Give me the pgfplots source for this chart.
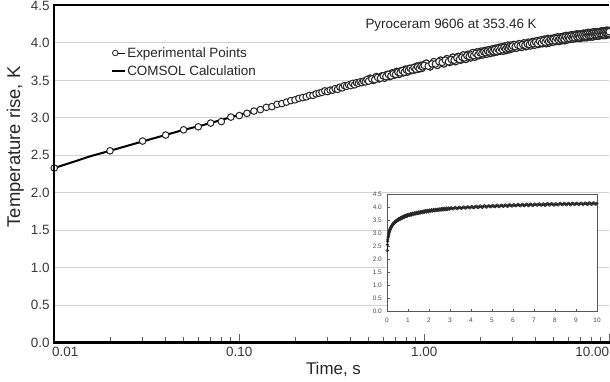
\documentclass[border=0pt]{standalone}
\usepackage{pgfplots}
\pgfplotsset{compat=1.18}
\usepackage{pgfplotstable}
\usepackage{fontspec}
\setmainfont{Liberation Sans}

\pgfplotstableread{
t y
0.01 2.33
0.02 2.56
0.03 2.69
0.04 2.77
0.05 2.84
0.06 2.88
0.07 2.93
0.08 2.95
0.09 3.01
0.10 3.03
0.11 3.06
0.12 3.09
0.13 3.11
0.14 3.14
0.15 3.15
0.16 3.18
0.17 3.19
0.18 3.21
0.19 3.23
0.20 3.24
0.21 3.26
0.22 3.27
0.23 3.28
0.24 3.30
0.25 3.30
0.26 3.32
0.27 3.33
0.28 3.34
0.29 3.36
0.30 3.35
0.31 3.37
0.32 3.37
0.33 3.39
0.34 3.38
0.35 3.41
0.36 3.40
0.37 3.43
0.38 3.42
0.39 3.44
0.40 3.43
0.41 3.46
0.42 3.44
0.43 3.47
0.44 3.46
0.45 3.48
0.46 3.47
0.47 3.49
0.48 3.48
0.49 3.51
0.50 3.49
0.52 3.52
0.54 3.51
0.56 3.54
0.58 3.53
0.60 3.56
0.62 3.55
0.64 3.58
0.66 3.56
0.68 3.59
0.70 3.58
0.72 3.61
0.74 3.60
0.76 3.63
0.78 3.61
0.80 3.64
0.82 3.63
0.84 3.66
0.86 3.64
0.88 3.67
0.90 3.65
0.92 3.68
0.94 3.66
0.96 3.69
0.98 3.68
1.00 3.70
1.05 3.69
1.10 3.72
1.15 3.72
1.20 3.75
1.25 3.74
1.30 3.77
1.35 3.75
1.40 3.78
1.45 3.77
1.50 3.80
1.55 3.78
1.60 3.81
1.65 3.80
1.70 3.83
1.75 3.82
1.80 3.84
1.85 3.83
1.90 3.86
1.95 3.84
2.00 3.87
2.05 3.86
2.10 3.88
2.15 3.87
2.20 3.89
2.25 3.88
2.30 3.90
2.35 3.89
2.40 3.91
2.45 3.89
2.50 3.92
2.55 3.90
2.60 3.93
2.65 3.91
2.70 3.94
2.75 3.92
2.80 3.94
2.85 3.93
2.90 3.95
2.95 3.94
3.00 3.96
3.1 3.95
3.2 3.97
3.3 3.96
3.4 3.98
3.5 3.97
3.6 3.99
3.7 3.98
3.8 4.00
3.9 3.99
4.0 4.01
4.1 3.99
4.2 4.02
4.3 4.00
4.4 4.03
4.5 4.01
4.6 4.04
4.7 4.02
4.8 4.04
4.9 4.03
5.0 4.05
5.1 4.03
5.2 4.06
5.3 4.04
5.4 4.06
5.5 4.05
5.6 4.07
5.7 4.05
5.8 4.08
5.9 4.06
6.0 4.08
6.1 4.06
6.2 4.09
6.3 4.07
6.4 4.09
6.5 4.07
6.6 4.10
6.7 4.08
6.8 4.10
6.9 4.08
7.0 4.11
7.1 4.09
7.2 4.11
7.3 4.09
7.4 4.11
7.5 4.09
7.6 4.12
7.7 4.10
7.8 4.12
7.9 4.10
8.0 4.12
8.1 4.10
8.2 4.13
8.3 4.11
8.4 4.13
8.5 4.11
8.6 4.13
8.7 4.11
8.8 4.14
8.9 4.12
9.0 4.14
9.1 4.12
9.2 4.14
9.3 4.12
9.4 4.15
9.5 4.13
9.6 4.15
9.7 4.13
9.8 4.15
9.9 4.13
10.0 4.15
}\expdata

\pgfplotstableread{
t y
0.51 3.53
0.53 3.50
0.55 3.55
0.57 3.52
0.59 3.56
0.61 3.53
0.63 3.58
0.65 3.55
0.67 3.60
0.69 3.57
0.71 3.62
0.73 3.58
0.75 3.63
0.77 3.60
0.79 3.65
0.81 3.61
0.83 3.66
0.85 3.63
0.87 3.67
0.89 3.64
0.91 3.69
0.93 3.65
0.95 3.70
0.97 3.66
0.99 3.71
1.025 3.73
1.075 3.68
1.125 3.75
1.175 3.70
1.225 3.77
1.275 3.72
1.325 3.79
1.375 3.74
1.425 3.81
1.475 3.75
1.525 3.82
1.575 3.77
1.625 3.84
1.675 3.78
1.725 3.85
1.775 3.80
1.825 3.87
1.875 3.81
1.925 3.88
1.975 3.83
2.025 3.89
2.075 3.84
2.125 3.90
2.175 3.85
2.225 3.91
2.275 3.86
2.325 3.92
2.375 3.87
2.425 3.93
2.475 3.88
2.525 3.94
2.575 3.89
2.625 3.95
2.675 3.89
2.725 3.96
2.775 3.90
2.825 3.97
2.875 3.91
2.925 3.97
2.975 3.92
3.05 3.98
3.15 3.93
3.25 3.99
3.35 3.94
3.45 4.00
3.55 3.95
3.65 4.01
3.75 3.96
3.85 4.02
3.95 3.97
4.05 4.03
4.15 3.98
4.25 4.04
4.35 3.99
4.45 4.05
4.55 3.99
4.65 4.06
4.75 4.00
4.85 4.06
4.95 4.01
5.05 4.07
5.15 4.02
5.25 4.08
5.35 4.02
5.45 4.08
5.55 4.03
5.65 4.09
5.75 4.03
5.85 4.10
5.95 4.04
6.05 4.10
6.15 4.05
6.25 4.11
6.35 4.05
6.45 4.11
6.55 4.06
6.65 4.12
6.75 4.06
6.85 4.12
6.95 4.06
7.05 4.12
7.15 4.07
7.25 4.13
7.35 4.07
7.45 4.13
7.55 4.07
7.65 4.14
7.75 4.08
7.85 4.14
7.95 4.08
8.05 4.14
8.15 4.08
8.25 4.15
8.35 4.09
8.45 4.15
8.55 4.09
8.65 4.15
8.75 4.09
8.85 4.15
8.95 4.10
9.05 4.16
9.15 4.10
9.25 4.16
9.35 4.10
9.45 4.16
9.55 4.10
9.65 4.17
9.75 4.11
9.85 4.17
9.95 4.11
}\expdatb

\pgfplotstableread{
t y
0.01 2.33
0.0126 2.41
0.0158 2.49
0.02 2.56
0.0251 2.63
0.0316 2.70
0.0398 2.77
0.0501 2.84
0.0631 2.90
0.0794 2.97
0.1 3.04
0.126 3.11
0.158 3.18
0.2 3.24
0.251 3.31
0.316 3.37
0.398 3.44
0.501 3.50
0.631 3.56
0.794 3.63
1.0 3.69
1.26 3.75
1.58 3.80
2.0 3.86
2.51 3.91
3.16 3.96
3.98 4.00
5.01 4.04
6.31 4.08
7.94 4.11
10.0 4.14
}\comsol

\begin{document}
\begin{tikzpicture}
\begin{axis}[
  name=main,
  scale only axis, width=555bp, height=337bp,
  xmode=log, xmin=0.01, xmax=10, ymin=0, ymax=4.5,
  xtick={0.01,0.1,1,10},
  xticklabels={{\hspace*{22bp}0.01},{0.10},{1.00},{10.00\hspace*{34bp}}},
  minor xtick={0.02,0.03,0.04,0.05,0.06,0.07,0.08,0.09,0.2,0.3,0.4,0.5,0.6,0.7,0.8,0.9,2,3,4,5,6,7,8,9},
  ytick={0,0.5,1,1.5,2,2.5,3,3.5,4,4.5},
  /pgf/number format/assume math mode=true,
  yticklabel style={/pgf/number format/fixed, /pgf/number format/fixed zerofill, /pgf/number format/precision=1, inner sep=0pt, xshift=-4.5bp},
  xticklabel style={inner sep=0pt, yshift=-4.5bp},
  ticklabel style={font=\fontsize{13.5}{16}\selectfont, text=black!78},
  xtick pos=bottom, ytick pos=left,
  tick align=inside,
  ytick style={draw=none},
  xtick style={gray!80!black, line width=0.8bp},
  major tick length=8bp, minor tick length=5bp,
  ymajorgrids, grid style={gray!35, line width=1bp},
  axis line style={draw=none},
  xlabel={Time, s}, ylabel={Temperature rise, K},
  every axis x label/.style={at={(axis description cs:0.503,0)}, anchor=center, yshift=-26.7bp, font=\fontsize{17}{20}\selectfont, text=black!85},
  every axis y label/.style={at={(axis description cs:0,0.58)}, xshift=-39bp, rotate=90, anchor=center, font=\fontsize{18.5}{22}\selectfont, text=black!85},
  legend cell align=left,
  legend style={draw=none, fill=none, at={(rel axis cs:0.1016,0.832)}, anchor=west, inner sep=0pt, outer sep=0pt, row sep=5bp, font=\fontsize{13.5}{16}\selectfont, nodes={inner sep=1bp, text=black!85}},
]
\addplot[black, line width=2bp, forget plot] table[x=t, y=y] {\comsol};
\addplot[only marks, mark=*, mark size=3.3bp, mark options={draw=black!85, fill=white, line width=1.15bp}, forget plot]
  table[x=t, y=y] {\expdatb};
\addplot[only marks, mark=*, mark size=3.3bp, mark options={draw=black!85, fill=white, line width=1.0bp},
  legend image code/.code={\path (0bp,0bp) -- (13.6bp,0bp); \draw[black!85, fill=white, line width=0.8bp] (3.6bp,0bp) circle[radius=2.8bp];}]
  table[x=t, y=y] {\expdata};
\addlegendentry{Experimental Points}
\addlegendimage{legend image code/.code={\draw[black, line width=2bp] (0bp,0bp) -- (13.6bp,0bp);}}
\addlegendentry{COMSOL Calculation}
\node[font=\fontsize{13.5}{16}\selectfont, text=black!85] at (rel axis cs:0.715,0.9415) {Pyroceram 9606 at 353.46 K};
\end{axis}
\draw[black, line width=2bp, line cap=rect] (main.north west) -- (main.south west) -- (main.south east);
\draw[black, line width=2bp] (main.north west) -- (main.north east);

\begin{axis}[
  at={(main.south west)}, anchor=south west, xshift=332.7bp, yshift=31.3bp,
  scale only axis, width=210bp, height=117bp,
  xmin=0, xmax=10, ymin=0, ymax=4.5,
  xtick={0,1,2,3,4,5,6,7,8,9,10},
  ytick={0,0.5,1,1.5,2,2.5,3,3.5,4,4.5},
  axis background/.style={fill=white},
  axis line style={gray!70!black, line width=0.8bp},
  tick style={gray!70!black, line width=0.5bp},
  major tick length=2.5bp, tick align=inside,
  xtick pos=bottom, ytick pos=left,
  /pgf/number format/assume math mode=true,
  ticklabel style={font=\fontsize{6.5}{8}\selectfont, text=gray!60!black},
  yticklabel style={/pgf/number format/fixed, /pgf/number format/fixed zerofill, /pgf/number format/precision=1, inner sep=0pt, xshift=-5bp},
  xticklabel style={inner sep=0pt, yshift=-6.5bp},
]
\addplot[black, line width=1bp] table[x=t, y=y] {\comsol};
\addplot[only marks, mark=o, mark size=1.3bp, mark options={black!85, line width=0.55bp}] table[x=t, y=y] {\expdata};
\addplot[only marks, mark=o, mark size=1.3bp, mark options={black!85, line width=0.55bp}] table[x=t, y=y] {\expdatb};
\end{axis}
\pgfresetboundingbox
\useasboundingbox ([xshift=-54.3bp,yshift=-39.5bp]main.south west) rectangle ([xshift=0.7bp,yshift=5.5bp]main.north east);
\end{tikzpicture}
\end{document}
